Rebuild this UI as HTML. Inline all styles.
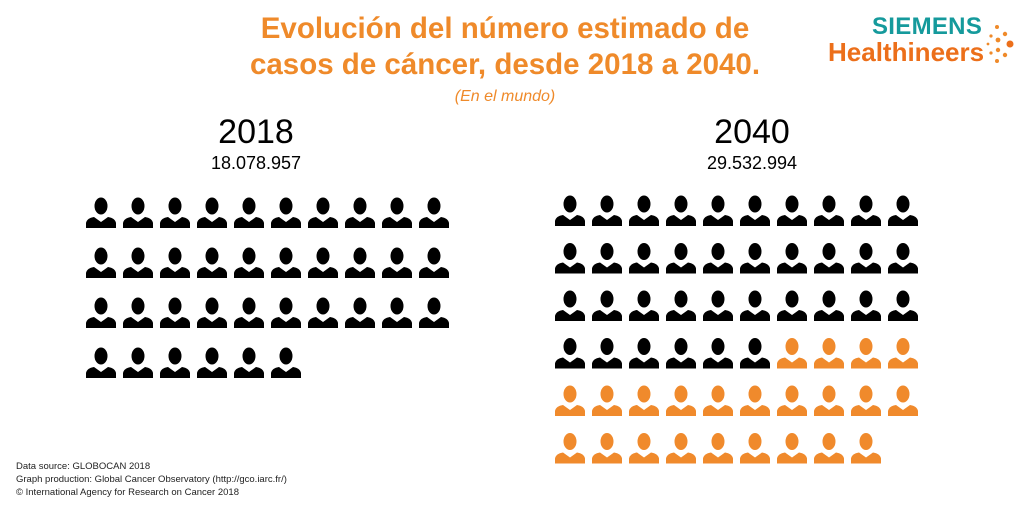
<!DOCTYPE html>
<html><head><meta charset="utf-8"><style>
body{margin:0;width:1024px;height:512px;background:#fff;overflow:hidden;font-family:"Liberation Sans",sans-serif;position:relative}
.t{position:absolute;white-space:nowrap}
</style></head><body>
<div class="t" style="left:0;width:1010px;top:11px;text-align:center;color:#ef8a2a;font-weight:bold;font-size:29.5px;line-height:36px">Evolución del número estimado de<br>casos de cáncer, desde 2018 a 2040.</div>
<div class="t" style="left:0;width:1010px;top:88px;text-align:center;color:#ef8a2a;font-style:italic;font-size:16px">(En el mundo)</div>
<div class="t" style="left:872px;top:13px;color:#159a9c;font-weight:bold;font-size:24px;letter-spacing:0.3px">SIEMENS</div>
<div class="t" style="left:828px;top:37px;color:#ec6f1a;font-weight:bold;font-size:26px">Healthineers</div>
<svg style="position:absolute;left:985px;top:24px" width="30" height="40">
<circle cx="12" cy="3" r="2" fill="#ef8a2a"/><circle cx="20" cy="10" r="2.2" fill="#ef8a2a"/><circle cx="6" cy="12" r="1.6" fill="#ef8a2a"/><circle cx="13" cy="16" r="2.4" fill="#ef8a2a"/><circle cx="25" cy="20" r="3.5" fill="#ec6f1a"/><circle cx="3" cy="20" r="1.4" fill="#ef8a2a"/><circle cx="13" cy="26" r="2.2" fill="#ef8a2a"/><circle cx="6" cy="29" r="1.6" fill="#ef8a2a"/><circle cx="20" cy="31" r="2.2" fill="#ef8a2a"/><circle cx="12" cy="37" r="2" fill="#ef8a2a"/></svg>
<div class="t" style="left:156px;width:200px;top:113px;text-align:center;font-size:34px">2018</div>
<div class="t" style="left:156px;width:200px;top:153px;text-align:center;font-size:18px">18.078.957</div>
<div class="t" style="left:652px;width:200px;top:113px;text-align:center;font-size:34px">2040</div>
<div class="t" style="left:652px;width:200px;top:153px;text-align:center;font-size:18px">29.532.994</div>
<div class="t" style="left:16px;top:460px;font-size:9.5px;line-height:13px;color:#222">Data source: GLOBOCAN 2018<br>Graph production: Global Cancer Observatory (http://gco.iarc.fr/)<br>© International Agency for Research on Cancer 2018</div>
<svg id="chart" width="1024" height="512" style="position:absolute;left:0;top:0"></svg>
<script>
const years = ["2018", "2040"];
const cases = [18078957, 29532994];
const perIcon = [500000];
const NS = "http://www.w3.org/2000/svg";
const svg = document.getElementById("chart");
const grids = [{x0:101,y0:212,dx:37,dy:50},{x0:570,y0:210,dx:37,dy:47.5}];
function icon(cx, cy, color, name) {
  const g = document.createElementNS(NS, "g");
  
  
  g.setAttribute("fill", color);
  const h = document.createElementNS(NS, "ellipse");
  h.setAttribute("cx", cx); h.setAttribute("cy", cy - 6); h.setAttribute("rx", 6.5); h.setAttribute("ry", 8.5);
  const b = document.createElementNS(NS, "path");
  b.setAttribute("d", `M${cx-15},${cy+16} L${cx-15},${cy+11} Q${cx-14},${cy+6} ${cx-7},${cy+5} L${cx},${cy+10} L${cx+7},${cy+5} Q${cx+14},${cy+6} ${cx+15},${cy+11} L${cx+15},${cy+16} Z`);
  g.appendChild(h); g.appendChild(b); svg.appendChild(g);
}
const base = Math.round(cases[0] / perIcon[0]);
cases.forEach((v, gi) => {
  const n = Math.round(v / perIcon[0]);
  const gr = grids[gi];
  for (let i = 0; i < n; i++) {
    const col = i % 10, row = Math.floor(i / 10);
    const color = (gi === 1 && i >= base) ? "#f08a2c" : "#000";
    icon(gr.x0 + col * gr.dx, gr.y0 + row * gr.dy, color, "person-icon-" + years[gi]);
  }
});
</script>
</body></html>
